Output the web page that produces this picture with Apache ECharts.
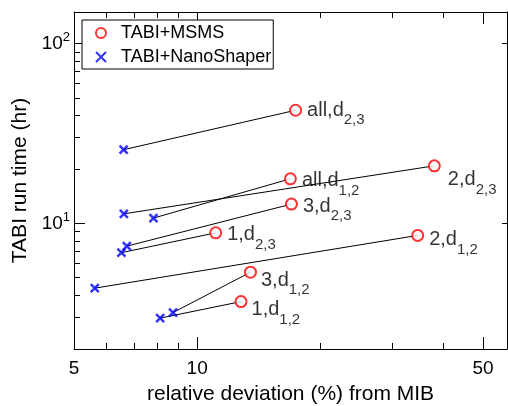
<!DOCTYPE html>
<html>
<head>
<meta charset="utf-8">
<script src="https://cdn.jsdelivr.net/npm/echarts@6/dist/echarts.min.js"></script>
<style>
  html, body { margin: 0; padding: 0; background: #fff; }
  #chart { width: 508px; height: 406px; }
</style>
</head>
<body>
<div id="chart"></div>
<script>
// data, pairs share the same index
var pointNames = ['all,d{s|2,3}', '2,d{s|2,3}', 'all,d{s|1,2}', '3,d{s|2,3}', '1,d{s|2,3}', '2,d{s|1,2}', '3,d{s|1,2}', '1,d{s|1,2}'];
var msmsX = [17.4, 38.0, 16.9, 17.0, 11.1, 34.6, 13.5, 12.8];
var msmsY = [42.6, 20.9, 17.7, 12.8, 8.86, 8.57, 5.35, 3.67];
var nanoX = [6.61, 6.62, 7.82, 6.73, 6.53, 5.62, 8.73, 8.12];
var nanoY = [25.7, 11.3, 10.7, 7.47, 6.87, 4.36, 3.19, 2.97];

// axes
var xMin = 5, xMax = 57.2;
var yMin = 2, yMax = 150;
var xLabelVals = [5, 10, 50];
var xMajorTicks = [10, 50];
var xMinorTicks = [6, 7, 8, 9, 20, 30, 40];
var yMajorTicks = [10, 100];
var yMinorTicks = [3, 4, 5, 6, 7, 8, 9, 20, 30, 40, 50, 60, 70, 80, 90];

// label nudges [dx, dy]
var labelNudge = [[0, 0], [2, 14], [0, 2], [0, 2], [0, 2], [0, 4], [-1, 8], [-1, 8]];

var lg = Math.log10;
var font = 'Liberation Sans, Arial, Helvetica, sans-serif';
var crossPath = 'path://M0,0L10,10M0,10L10,0';

function tickAxis(pos, len, vals, showLine) {
	var isX = pos == 'bottom' || pos == 'top';
	return {
		type: 'value',
		position: pos,
		min: isX ? lg(xMin) : lg(yMin),
		max: isX ? lg(xMax) : lg(yMax),
		splitLine: { show: false },
		axisLine: { show: showLine, onZero: false, lineStyle: { color: '#000', width: 1 } },
		axisTick: { show: true, inside: true, length: len, customValues: vals.map(lg), lineStyle: { color: '#000', width: 1 } },
		axisLabel: { show: false }
	};
}

var xBottom = tickAxis('bottom', 12, xMajorTicks, true);
xBottom.axisLabel = {
	show: true,
	customValues: xLabelVals.map(lg),
	formatter: function (v) { return String(Math.round(Math.pow(10, v))); },
	fontSize: 19, fontFamily: font, color: '#000', margin: 10
};
xBottom.name = 'relative deviation (%) from MIB';
xBottom.nameLocation = 'middle';
xBottom.nameGap = 35;
xBottom.nameTextStyle = { fontSize: 21, fontFamily: font, color: '#000' };

var yLeft = tickAxis('left', 11, yMajorTicks, true);
yLeft.axisLabel = {
	show: true,
	customValues: yMajorTicks.map(lg),
	formatter: function (v) { return '10{s|' + Math.round(v) + '}'; },
	fontSize: 19, fontFamily: font, color: '#000', margin: 4,
	rich: { s: { fontSize: 13, fontFamily: font, color: '#000', padding: [0, 0, 12, 0] } }
};
yLeft.name = 'TABI run time (hr)';
yLeft.nameLocation = 'middle';
yLeft.nameGap = 40;
yLeft.nameTextStyle = { fontSize: 21, fontFamily: font, color: '#000' };

var option = {
	animation: false,
	backgroundColor: '#fff',
	grid: { left: 74, right: 1, top: 12, bottom: 57, outerBoundsMode: 'none', containLabel: false },
	xAxis: [
		xBottom,
		tickAxis('bottom', 6, xMinorTicks, false),
		tickAxis('top', 12, xMajorTicks, true),
		tickAxis('top', 6, xMinorTicks, false)
	],
	yAxis: [
		yLeft,
		tickAxis('left', 6, yMinorTicks, false),
		tickAxis('right', 5, yMajorTicks, true)
	],
	legend: {
		orient: 'vertical',
		left: 82, top: 20,
		padding: [3, 2, 2, 13],
		itemWidth: 30, itemHeight: 10, itemGap: 4,
		borderColor: '#000', borderWidth: 1, borderRadius: 0,
		backgroundColor: '#fff',
		textStyle: { fontSize: 18, fontFamily: font, color: '#000', lineHeight: 20 },
		data: ['TABI+MSMS', 'TABI+NanoShaper']
	},
	series: [
		{
			type: 'lines',
			coordinateSystem: 'cartesian2d',
			silent: true,
			z: 1,
			lineStyle: { color: '#000', width: 1, opacity: 1 },
			data: msmsX.map(function (x, i) {
				return { coords: [[lg(nanoX[i]), lg(nanoY[i])], [lg(x), lg(msmsY[i])]] };
			})
		},
		{
			name: 'TABI+MSMS',
			type: 'scatter',
			z: 3,
			symbol: 'emptyCircle',
			symbolSize: 11,
			itemStyle: { color: '#ff0000', borderColor: '#ff0000', borderWidth: 2 },
			label: {
				show: true,
				position: 'right',
				distance: 5,
				formatter: function (p) { return pointNames[p.dataIndex]; },
				fontSize: 20, fontFamily: font, color: '#000',
				rich: { s: { fontSize: 15, fontFamily: font, color: '#000', padding: [20, 0, 0, 0] } }
			},
			data: msmsX.map(function (x, i) {
				return { value: [lg(x), lg(msmsY[i])], label: { offset: labelNudge[i] } };
			})
		},
		{
			name: 'TABI+NanoShaper',
			type: 'scatter',
			z: 2,
			symbol: crossPath,
			symbolSize: 8,
			itemStyle: { color: '#0000ff', borderColor: '#0000ff', borderWidth: 2.5 },
			data: nanoX.map(function (x, i) { return [lg(x), lg(nanoY[i])]; })
		}
	]
};

var chart = echarts.init(document.getElementById('chart'));
chart.setOption(option);
</script>
</body>
</html>
